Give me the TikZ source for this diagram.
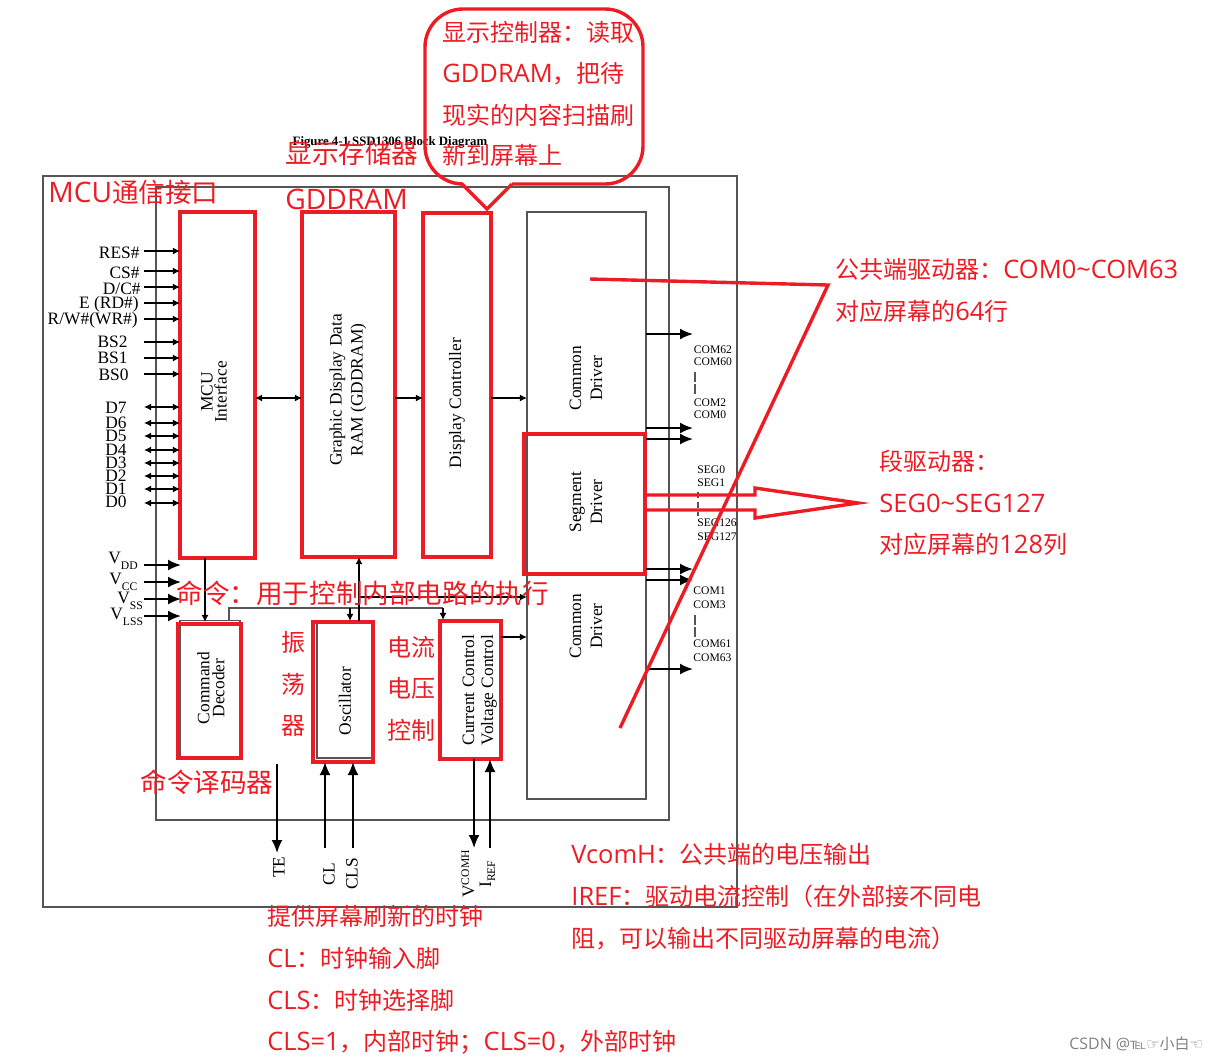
\documentclass[tikz,border=0pt]{standalone}
\usepackage{fontspec}
\setmainfont{Liberation Serif}
\newfontfamily\cnfont{Noto Sans CJK SC}
\newfontfamily\latfont[Scale=1.06]{Open Sans}
\newfontfamily\symfont{DejaVu Sans}
\usetikzlibrary{arrows.meta}
\definecolor{markred}{RGB}{237,28,36}
\definecolor{framegray}{RGB}{85,85,85}
\tikzset{
    redbox/.style={draw=markred,line width=2.2pt,inner sep=0pt,outer sep=0pt},
    graybox/.style={draw=framegray,line width=0.65pt,inner sep=0pt,outer sep=0pt},
    redline/.style={draw=markred,line width=1.7pt},
    grayline/.style={draw=framegray,line width=0.65pt},
    smallarrow/.style={line width=0.9pt,-{Latex[length=3.6pt,width=3.6pt]}},
    botharrow/.style={line width=0.9pt,{Latex[length=3.6pt,width=3.6pt]}-{Latex[length=3.6pt,width=3.6pt]}},
    bigarrow/.style={line width=1pt,-{Latex[length=6.5pt,width=5.5pt]}},
    blocktext/.style={inner sep=0pt,align=center,font=\fontsize{8.7}{10}\selectfont},
    pintext/.style={inner sep=0pt,font=\fontsize{8.7}{10}\selectfont},
    comtext/.style={inner sep=0pt,anchor=west,font=\fontsize{5.8}{7}\selectfont},
    notetext/.style={inner sep=0pt,anchor=base west,text=markred,font=\cnfont\fontsize{12}{14}\selectfont},
    bignote/.style={inner sep=0pt,anchor=base west,text=markred,font=\cnfont\fontsize{13.3}{15}\selectfont},
}
\begin{document}
\begin{tikzpicture}[x=0.5pt,y=-0.5pt]
    \useasboundingbox(0,0)rectangle(1229,1062);
    \def\inpin#1#2#3#4#5{\node[pintext,anchor=east](#1)at(#4,#5){#2};\coordinate(#1end)at(144,#3);\draw[smallarrow](#1end)--(#1end-|mcu.west);}
    \def\iopin#1#2#3#4#5{\node[pintext,anchor=east](#1)at(#4,#5){#2};\coordinate(#1end)at(144,#3);\draw[botharrow](#1end)--(#1end-|mcu.west);}
    \def\powpin#1#2#3#4#5{\node[pintext,anchor=base west](#1)at(#4,#5){V\raisebox{-3pt}{\fontsize{5.8}{6}\selectfont #2}};\coordinate(#1end)at(144,#3);\draw[bigarrow](#1end)--(181,#3);}
    % frames
    \node[graybox,minimum width=347pt,minimum height=365.5pt](outer)at(390,541.5){};
    \node[graybox,minimum width=256.5pt,minimum height=316.5pt](inner)at(412.5,503.5){};
    \node[graybox,minimum width=59.5pt,minimum height=293.5pt](driver)at(586.5,505.5){};
    \node[graybox,minimum width=30pt,minimum height=68.5pt](cmdframe)at(210,689){};
    \node[graybox,minimum width=28pt,minimum height=68pt](oscframe)at(345,690){};
    \node[inner sep=0pt,font=\bfseries\fontsize{6.4}{7}\selectfont](title)at(390,142.5){Figure 4-1 SSD1306 Block Diagram};
    % red blocks
    \node[redbox,minimum width=37.5pt,minimum height=173pt](mcu)at(217.5,385){};
    \node[redbox,minimum width=46.5pt,minimum height=172.5pt](gddram)at(348.5,384.5){};
    \node[redbox,minimum width=34pt,minimum height=172pt](dispctl)at(457,385){};
    \node[redbox,minimum width=60.5pt,minimum height=70pt](segdrv)at(584.5,504){};
    \node[redbox,minimum width=31.5pt,minimum height=67pt](cmddec)at(209.5,691){};
    \node[redbox,minimum width=30pt,minimum height=70pt](osc)at(343,692){};
    \node[redbox,minimum width=30.5pt,minimum height=69pt](current)at(470.5,690){};
    % block texts
    \node[blocktext,rotate=90](mcutext)at(214,392){MCU\\[-3pt]Interface};
    \node[blocktext,rotate=90](gddramtext)at(348,390){Graphic Display Data\\[0.5pt]RAM (GDDRAM)};
    \node[blocktext,rotate=90](dispctltext)at(457,403){Display Controller};
    \node[blocktext,rotate=90](comtoptext)at(586,378){Common\\[0.5pt]Driver};
    \node[blocktext,rotate=90](segtext)at(586,502){Segment\\[0.5pt]Driver};
    \node[blocktext,rotate=90](combottext)at(586,626){Common\\[0.5pt]Driver};
    \node[blocktext,rotate=90](cmdtext)at(211,688){Command\\[-2.5pt]Decoder};
    \node[blocktext,rotate=90](osctext)at(345,701){Oscillator};
    \node[blocktext,rotate=90](currenttext)at(479.5,690){Current Control\\[-0.5pt]Voltage Control};
    % left pins
    \inpin{res}{RES\#}{251}{140}{253}
    \inpin{cs}{CS\#}{271}{140}{273}
    \inpin{dc}{D/C\#}{287}{141}{289}
    \inpin{rd}{E (RD\#)}{303}{139}{304}
    \inpin{wr}{R/W\#(WR\#)}{319}{138}{320}
    \inpin{bstwo}{BS2}{342}{128}{342}
    \inpin{bsone}{BS1}{358}{128}{358}
    \inpin{bszero}{BS0}{374}{129}{375}
    \iopin{dseven}{D7}{407}{127}{408}
    \iopin{dsix}{D6}{423}{127}{423}
    \iopin{dfive}{D5}{436}{127}{436}
    \iopin{dfour}{D4}{450}{127}{450}
    \iopin{dthree}{D3}{463}{127}{463}
    \iopin{dtwo}{D2}{476}{127}{476}
    \iopin{done}{D1}{489}{127}{489}
    \iopin{dzero}{D0}{503}{127}{502}
    \powpin{vdd}{DD}{565}{108}{563}
    \powpin{vcc}{CC}{582}{109}{584}
    \powpin{vss}{SS}{599}{117}{603}
    \powpin{vlss}{LSS}{616}{110}{619}
    % inner wiring
    \draw[botharrow](mcu.east|-0,398)--(gddram.west|-0,398);
    \draw[smallarrow](gddram.east|-0,398)--(dispctl.west|-0,398);
    \draw[smallarrow](dispctl.east|-0,398)--(driver.west|-0,398);
    \draw[smallarrow](205,558)--(205,622);
    \coordinate(busleft)at(229,621);
    \coordinate(busright)at(443,608);
    \draw[grayline](busleft)--(busleft|-busright)--(busright);
    \draw[smallarrow](350,608)--(350,621);
    \draw[smallarrow](busright)--(443,620);
    \coordinate(ctlbus)at(359,621);
    \draw[smallarrow](ctlbus)--(ctlbus|-gddram.south);
    \draw[smallarrow](359,597)--(driver.west|-0,597);
    \draw[smallarrow](current.east|-0,637)--(driver.west|-0,637);
    % right pins
    \draw[bigarrow](driver.east|-0,334)--(693,334);
    \draw[bigarrow](driver.east|-0,428)--(693,428);
    \draw[bigarrow](driver.east|-0,439)--(693,439);
    \draw[bigarrow](driver.east|-0,569)--(693,569);
    \draw[bigarrow](driver.east|-0,580)--(693,580);
    \draw[bigarrow](driver.east|-0,669)--(693,669);
    \node[comtext](comsixtytwo)at(693.5,350){COM62};
    \node[comtext](comsixty)at(693.5,362){COM60};
    \draw[grayline,dash pattern=on 5pt off 1pt](695,372)--(695,394);
    \node[comtext](comtwo)at(693.5,403){COM2};
    \node[comtext](comzero)at(693.5,415){COM0};
    \node[comtext](segzero)at(697,470){SEG0};
    \node[comtext](segone)at(697,483){SEG1};
    \draw[grayline,densely dashed](698,492)--(698,516);
    \node[comtext](segonetwentysix)at(697,523){SEG126};
    \node[comtext](segonetwentyseven)at(697,537){SEG127};
    \node[comtext](comone)at(693,591){COM1};
    \node[comtext](comthree)at(693,605){COM3};
    \draw[grayline,dash pattern=on 5pt off 1pt](695,615)--(695,637);
    \node[comtext](comsixtyone)at(693,644){COM61};
    \node[comtext](comsixtythree)at(693,658){COM63};
    % bottom pins
    \coordinate(teend)at(277,853);
    \coordinate(clend)at(325,848);
    \coordinate(clsend)at(353,848);
    \coordinate(vcomend)at(474,848);
    \coordinate(irefend)at(490,848);
    \draw[bigarrow](277,764)--(teend);
    \draw[bigarrow](clend)--(clend|-osc.south);
    \draw[bigarrow](clsend)--(clsend|-osc.south);
    \draw[bigarrow](vcomend|-current.south)--(vcomend);
    \draw[bigarrow](irefend)--(irefend|-current.south);
    \node[pintext,rotate=90](te)at(279,867){TE};
    \node[pintext,rotate=90](cl)at(329,874){CL};
    \node[pintext,rotate=90](cls)at(352,874){CLS};
    \node[pintext,rotate=90,anchor=base west](vcomh)at(474,898){V\raisebox{2.5pt}{\fontsize{5.8}{6}\selectfont COMH}};
    \node[pintext,rotate=90,anchor=base west](iref)at(491,888){I\raisebox{-2pt}{\fontsize{5.8}{6}\selectfont REF}};
    % red marks
    \draw[redline](590,279)--(828,285)--(620,728);
    \draw[redline](645,495)--(755,495)--(755,488)--(858,503)--(755,518)--(755,510)--(645,510);
    \coordinate(tipleft)at(462,184);
    \coordinate(tipright)at(512,184);
    \coordinate(tip)at(487,209);
    \draw[redline,rounded corners=19pt](tipleft)--(425,184)--(425,9)--(643,9)--(643,184)--(tipright);
    \draw[redline](tipleft)--(tip)--(tipright);
    % red notes
    \node[notetext](ctlnotea)at(442,41){显示控制器：读取};
    \node[notetext](ctlnoteb)at(442,82){{\latfont GDDRAM}，把待};
    \node[notetext](ctlnotec)at(442,124){现实的内容扫描刷};
    \node[notetext](ctlnoted)at(442,164){新到屏幕上};
    \node[bignote](mcunote)at(48,202){{\latfont MCU}通信接口};
    \node[bignote](ramnotea)at(285,163){显示存储器};
    \node[bignote](ramnoteb)at(285,209){{\latfont GDDRAM}};
    \node[bignote](cmdnote)at(176,603){命令：用于控制内部电路的执行};
    \node[bignote](decnote)at(140,792){命令译码器};
    \node[notetext](comnotea)at(835,278){公共端驱动器：{\latfont COM0\textasciitilde COM63}};
    \node[notetext](comnoteb)at(835,320){对应屏幕的{\latfont 64}行};
    \node[notetext](segnotea)at(879,470){段驱动器：};
    \node[notetext](segnoteb)at(879,512){{\latfont SEG0\textasciitilde SEG127}};
    \node[notetext](segnotec)at(879,553){对应屏幕的{\latfont 128}列};
    \node[notetext](oscnotea)at(281,651){振};
    \node[notetext](oscnoteb)at(281,693){荡};
    \node[notetext](oscnotec)at(281,734){器};
    \node[notetext](curnotea)at(387,656){电流};
    \node[notetext](curnoteb)at(387,697){电压};
    \node[notetext](curnotec)at(387,739){控制};
    \node[notetext](vcomnote)at(571,863){{\latfont VcomH}：公共端的电压输出};
    \node[notetext](irefnotea)at(571,905){{\latfont IREF}：驱动电流控制（在外部接不同电};
    \node[notetext](irefnoteb)at(571,947){阻，可以输出不同驱动屏幕的电流）};
    \node[notetext](clknotea)at(267,925){提供屏幕刷新的时钟};
    \node[notetext](clknoteb)at(267,967){{\latfont CL}：时钟输入脚};
    \node[notetext](clknotec)at(267,1009){{\latfont CLS}：时钟选择脚};
    \node[notetext](clknoted)at(267,1050){{\latfont CLS=1}，内部时钟；{\latfont CLS=0}，外部时钟};
    \node[inner sep=0pt,anchor=base west,text=gray,font=\cnfont\fontsize{7.5}{8}\selectfont](mark)at(1069,1049){{\latfont CSDN @}{\symfont ℡☞}小白{\symfont ☜}};
\end{tikzpicture}
\end{document}
